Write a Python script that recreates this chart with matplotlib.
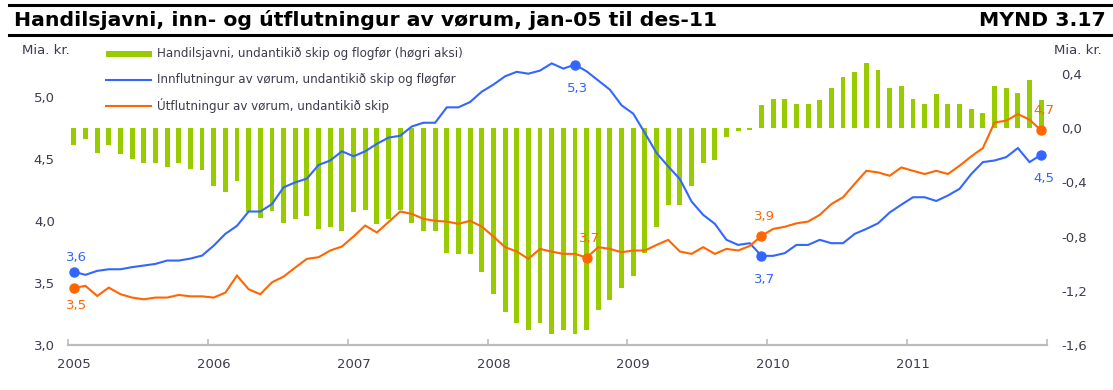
import numpy as np
import matplotlib
matplotlib.use("Agg")
import matplotlib.pyplot as plt
from matplotlib.lines import Line2D
from matplotlib.patches import Rectangle

# Monthly series, jan-05 .. des-11 (84 months)
years = ["2005", "2006", "2007", "2008", "2009", "2010", "2011"]

# Trade balance excl. ships and aircraft (bn kr., right axis)
trade_balance = [
    -0.125, -0.076, -0.18, -0.125, -0.19, -0.23, -0.26, -0.26, -0.285, -0.26, -0.30, -0.31,
    -0.425, -0.47, -0.39, -0.62, -0.66, -0.61, -0.70, -0.67, -0.65, -0.74, -0.73, -0.76,
    -0.62, -0.60, -0.71, -0.67, -0.60, -0.70, -0.76, -0.76, -0.92, -0.93, -0.93, -1.06,
    -1.22, -1.36, -1.44, -1.49, -1.44, -1.52, -1.49, -1.52, -1.49, -1.34, -1.27, -1.18,
    -1.09, -0.92, -0.73, -0.57, -0.57, -0.425, -0.256, -0.231, -0.064, -0.022, -0.015, 0.17,
    0.219, 0.219, 0.182, 0.182, 0.206, 0.30, 0.378, 0.415, 0.48, 0.428, 0.30, 0.312,
    0.219, 0.182, 0.25, 0.182, 0.182, 0.14, 0.116, 0.312, 0.30, 0.26, 0.354, 0.206,
]

# Imports of goods excl. ships and aircraft (bn kr., left axis)
imports = [
    3.59, 3.565, 3.597, 3.61, 3.61, 3.627, 3.64, 3.653, 3.68, 3.68, 3.696, 3.72,
    3.80, 3.895, 3.96, 4.075, 4.075, 4.135, 4.27, 4.31, 4.34, 4.45, 4.486, 4.56,
    4.52, 4.56, 4.62, 4.67, 4.685, 4.76, 4.79, 4.79, 4.914, 4.914, 4.957, 5.04,
    5.097, 5.164, 5.20, 5.185, 5.21, 5.268, 5.226, 5.258, 5.204, 5.13, 5.056, 4.93,
    4.863, 4.707, 4.546, 4.438, 4.336, 4.156, 4.048, 3.976, 3.847, 3.806, 3.82, 3.718,
    3.718, 3.74, 3.806, 3.806, 3.847, 3.82, 3.82, 3.895, 3.935, 3.98, 4.067, 4.13,
    4.19, 4.19, 4.16, 4.204, 4.258, 4.377, 4.473, 4.486, 4.513, 4.586, 4.473, 4.532,
]

# Exports of goods excl. ships (bn kr., left axis)
exports = [
    3.46, 3.476, 3.395, 3.462, 3.409, 3.382, 3.368, 3.382, 3.382, 3.403, 3.392, 3.392,
    3.382, 3.422, 3.559, 3.449, 3.409, 3.505, 3.551, 3.624, 3.694, 3.707, 3.761, 3.793,
    3.874, 3.962, 3.906, 3.99, 4.075, 4.056, 4.016, 4.0, 3.994, 3.976, 4.0, 3.954,
    3.874, 3.788, 3.753, 3.694, 3.774, 3.752, 3.734, 3.734, 3.704, 3.788, 3.774, 3.747,
    3.761, 3.761, 3.806, 3.847, 3.753, 3.734, 3.788, 3.734, 3.774, 3.761, 3.798, 3.879,
    3.935, 3.952, 3.98, 3.994, 4.048, 4.135, 4.19, 4.298, 4.403, 4.39, 4.363, 4.43,
    4.403, 4.377, 4.403, 4.377, 4.444, 4.519, 4.586, 4.793, 4.806, 4.86, 4.815, 4.728,
]

# Highlighted months: (month index, vertical text offset in points)
import_marks = [(0, 10), (43, -17), (59, -17), (83, -17)]
export_marks = [(0, -12.5), (44, 14), (59, 14), (83, 14)]

legend_labels = [
    "Handilsjavni, undantikið skip og flogfør (høgri aksi)",
    "Innflutningur av vørum, undantikið skip og fløgfør",
    "Útflutningur av vørum, undantikið skip",
]
title_text = "Handilsjavni, inn- og útflutningur av vørum, jan-05 til des-11"
figure_no = "MYND 3.17"
unit_text = "Mia. kr."

GREEN = "#99cc00"
BLUE = "#3366ff"
ORANGE = "#ff6600"
TEXT = "#3c3c4e"
AXIS = "#bcbcbc"

plt.rcParams["font.family"] = ["DejaVu Sans"]

W, H = 1113, 390
fig = plt.figure(figsize=(W / 100, H / 100), dpi=100)


def fx(px):
    return px / W


def fy(py):
    return 1 - py / H


ax2 = fig.add_axes([fx(68), fy(345), fx(1047 - 68), (345 - 47) / H])
ax = ax2.twinx()
ax.yaxis.set_label_position("left")
ax.yaxis.tick_left()
ax2.yaxis.set_label_position("right")
ax2.yaxis.tick_right()

n = len(imports)
x = np.arange(n)

# bars: trade balance on the right scale
ax2.bar(x, trade_balance, width=0.42, color=GREEN, edgecolor="none", zorder=2)
ax2.set_ylim(-1.6, 0.6)
right_ticks = [-1.6, -1.2, -0.8, -0.4, 0.0, 0.4]
ax2.set_yticks(right_ticks)
ax2.set_yticklabels([f"{v:.1f}".replace(".", ",") for v in right_ticks])

# lines: imports and exports on the left scale
ax.plot(x, imports, color=BLUE, lw=1.5, zorder=3, solid_joinstyle="miter")
ax.plot(x, exports, color=ORANGE, lw=1.5, zorder=3, solid_joinstyle="miter")
ax.set_ylim(3.0, 5.4)
left_ticks = [3.0, 3.5, 4.0, 4.5, 5.0]
ax.set_yticks(left_ticks)
ax.set_yticklabels([f"{v:.1f}".replace(".", ",") for v in left_ticks])

for series, marks, col in ((imports, import_marks, BLUE), (exports, export_marks, ORANGE)):
    for i, dy in marks:
        v = series[i]
        ax.plot(i, v, "o", color=col, ms=6.5, zorder=4)
        ax.annotate(f"{v:.1f}".replace(".", ","), (i, v), xytext=(2, dy),
                    textcoords="offset points", ha="center", va="center",
                    fontsize=9.5, color=col, zorder=5)

ax2.set_xlim(-0.5, n - 0.5)
for a in (ax, ax2):
    for s in a.spines.values():
        s.set_visible(False)
    a.tick_params(axis="y", length=0, labelsize=9.5, labelcolor=TEXT)
ax.tick_params(axis="y", pad=9.5)
ax2.tick_params(axis="y", pad=10)
ax2.spines["bottom"].set_visible(True)
ax2.spines["bottom"].set_color(AXIS)
ax2.spines["bottom"].set_linewidth(1.6)

# year boundaries as tick marks, year names centred on January
ax2.set_xticks(np.arange(-0.5, n, 12))
ax2.set_xticklabels([])
ax2.tick_params(axis="x", which="major", direction="in", length=4, width=1.2, color=AXIS)
ax2.set_xticks(np.arange(0, n, 12), minor=True)
ax2.set_xticklabels(years, minor=True)
ax2.tick_params(axis="x", which="minor", length=0, pad=9.5, labelsize=9.5, labelcolor=TEXT)

# title band
fig.add_artist(Line2D([fx(9), 1], [fy(5), fy(5)], color="black", lw=2.2))
fig.add_artist(Line2D([fx(9), 1], [fy(35), fy(35)], color="black", lw=2.2))
fig.text(fx(14), fy(20.5), title_text, fontsize=14.7, fontweight="bold", color="black",
         ha="left", va="center")
fig.text(fx(1106), fy(20.5), figure_no, fontsize=14.7, fontweight="bold", color="black",
         ha="right", va="center")

# unit labels
fig.text(fx(22), fy(51), unit_text, fontsize=9.5, color=TEXT, ha="left", va="center")
fig.text(fx(1102), fy(50), unit_text, fontsize=9.5, color=TEXT, ha="right", va="center")

# legend
fig.add_artist(Rectangle((fx(106), fy(57)), fx(152 - 106), (57 - 51) / H,
                         transform=fig.transFigure, color=GREEN, lw=0))
fig.add_artist(Line2D([fx(106), fx(151)], [fy(80), fy(80)], color=BLUE, lw=1.5))
fig.add_artist(Line2D([fx(106), fx(151)], [fy(106), fy(106)], color=ORANGE, lw=1.5))
for lbl, yy in zip(legend_labels, (54, 80, 106)):
    fig.text(fx(157), fy(yy), lbl, fontsize=9.5, color=TEXT, ha="left", va="center",
             fontstretch="condensed")

fig.savefig("out.png", dpi=100)
